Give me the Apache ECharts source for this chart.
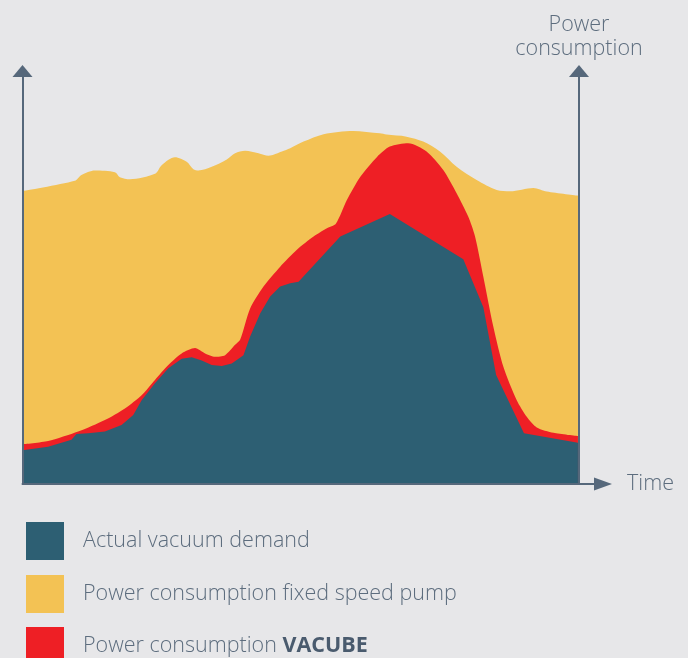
<!DOCTYPE html>
<html>
<head>
<meta charset="utf-8">
<script src="https://cdn.jsdelivr.net/npm/echarts@6/dist/echarts.min.js"></script>
<style>
html,body{margin:0;padding:0;background:#e7e7e9;}
#c{width:688px;height:658px;}
</style>
</head>
<body>
<div id="c"></div>
<script>
// Series names (legend order)
var seriesNames = ['Actual vacuum demand', 'Power consumption fixed speed pump', 'Power consumption VACUBE'];
var axisNames = { x: 'Time', y: 'Power\nconsumption' };

// [time, power] pairs (arbitrary units, 0-100)
var fixedSpeed = [
  [0,70.9],[9.4,73.4],[10.6,74.8],[13.0,75.9],[16.6,75.5],[17.5,74.3],[19.3,73.8],[23.8,75.1],
  [25.0,77.2],[27.4,79.1],[29.5,78.0],[30.7,76.2],[31.6,75.9],[34.0,76.8],[36.7,78.6],[38.2,80.1],
  [40.0,80.7],[42.4,80.1],[44.2,79.5],[46.6,80.5],[48.1,81.3],[50.5,82.9],[54.1,84.7],[59.4,85.5],
  [64.2,84.9],[65.4,84.6],[69.0,84.1],[72.0,82.9],[75.0,80.5],[78.0,76.8],[81.6,73.6],[85.2,71.2],
  [87.6,70.9],[91.8,71.7],[94.2,70.8],[99.8,69.8]
];
var vacube = [
  [0,9.6],[4.6,10.4],[10.0,12.7],[14.8,15.5],[18.4,18.3],[21.4,21.5],[23.8,25.2],[26.2,28.8],
  [28.6,31.6],[31.0,32.9],[32.8,31.6],[34.6,30.8],[36.4,31.2],[38.2,33.7],[39.1,34.9],[40.9,42.5],
  [43.3,47.8],[46.3,52.6],[49.3,56.7],[52.3,59.9],[54.7,61.9],[56.3,63.0],[58.3,68.8],[60.7,74.4],
  [63.7,79.2],[66.0,81.7],[69.3,82.5],[72.6,80.5],[75.6,76.0],[78.0,70.4],[80.1,64.7],[81.3,60.0],
  [82.8,50.2],[84.6,38.1],[86.4,28.4],[88.8,20.3],[90.6,16.3],[92.4,13.7],[95.4,12.4],[99.8,11.6]
];
var demand = [
  [0,8.2],[4.6,9.0],[8.8,10.7],[9.7,12.1],[11.8,12.3],[14.8,12.7],[17.8,14.3],[19.9,16.7],
  [21.4,20.3],[23.8,24.4],[26.2,28.0],[28.6,30.3],[30.4,30.7],[32.2,29.9],[34.0,28.8],[35.8,28.6],
  [37.6,29.2],[39.7,31.2],[40.9,35.7],[42.7,41.3],[44.5,45.4],[46.3,47.8],[48.1,48.6],[49.6,49.0],
  [57.1,59.9],[66.0,65.4],[79.2,54.4],[82.8,42.8],[85.1,26.4],[90.1,12.3],[99.8,10.0]
];

var colors = { demand: '#2d5f73', fixed: '#f3c254', vacube: '#ee1f25' };
var axisColor = '#56687b';
var textColor = '#5d6d7e';
var fontFamily = '"Open Sans", Roboto, "Liberation Sans", sans-serif';
var fs = 21.5;

var chart = echarts.init(document.getElementById('c'), null, { renderer: 'canvas' });

function yAx(extra) {
  var o = {
    type: 'value', min: 0, max: 100, z: 10,
    axisLine: { show: true, lineStyle: { color: axisColor, width: 2 }, symbol: ['none', 'triangle'], symbolSize: [20, 12] },
    axisTick: { show: false }, axisLabel: { show: false }, splitLine: { show: false }
  };
  for (var k in extra) o[k] = extra[k];
  return o;
}

function areaSeries(name, data, color, smooth) {
  return {
    name: name, type: 'line', data: data, xAxisIndex: 0, yAxisIndex: 0,
    smooth: smooth, symbol: 'none', showSymbol: false,
    color: color,
    itemStyle: { color: color },
    lineStyle: { width: 0, color: color },
    areaStyle: { color: color, opacity: 1 },
    silent: true, animation: false
  };
}

function legendFor(idx, top) {
  return {
    orient: 'vertical', left: 26, top: top, padding: 0,
    itemWidth: 38, itemHeight: 38, itemGap: 15, icon: 'rect',
    data: [seriesNames[idx]],
    selectedMode: false,
    formatter: function (name) {
      if (name === seriesNames[2]) return '{p|}Power consumption {b|VACUBE}';
      return '{p|}' + name;
    },
    textStyle: {
      color: textColor, fontSize: fs, fontWeight: 300, fontFamily: fontFamily,
      rich: {
        p: { width: 14 },
        b: { fontWeight: 'bold', color: '#4a5b6e', fontSize: fs, fontFamily: fontFamily }
      }
    }
  };
}

chart.setOption({
  backgroundColor: '#e7e7e9',
  animation: false,
  textStyle: { fontFamily: fontFamily },
  grid: { left: 22.5, right: 688 - 603, top: 71, bottom: 658 - 484, containLabel: false },
  xAxis: {
    type: 'value', min: 0, max: 104.3, z: 10,
    name: axisNames.x, nameLocation: 'end', nameGap: 24,
    nameTextStyle: { color: textColor, fontSize: fs, fontWeight: 300, fontFamily: fontFamily, verticalAlign: 'middle' },
    axisLine: { show: true, onZero: false, lineStyle: { color: axisColor, width: 2 }, symbol: ['none', 'triangle'], symbolSize: [13, 18] },
    axisTick: { show: false }, axisLabel: { show: false }, splitLine: { show: false }
  },
  yAxis: [
    yAx({ position: 'left' }),
    yAx({ position: 'right', offset: -24, name: axisNames.y, nameLocation: 'end', nameGap: 10,
      nameTextStyle: { color: textColor, fontSize: fs, fontWeight: 300, fontFamily: fontFamily, lineHeight: 24, align: 'center' } })
  ],
  legend: [legendFor(0, 522), legendFor(1, 575), legendFor(2, 627)],
  series: [
    areaSeries(seriesNames[1], fixedSpeed, colors.fixed, 0.3),
    areaSeries(seriesNames[2], vacube, colors.vacube, 0.25),
    areaSeries(seriesNames[0], demand, colors.demand, false)
  ]
});
</script>
</body>
</html>
